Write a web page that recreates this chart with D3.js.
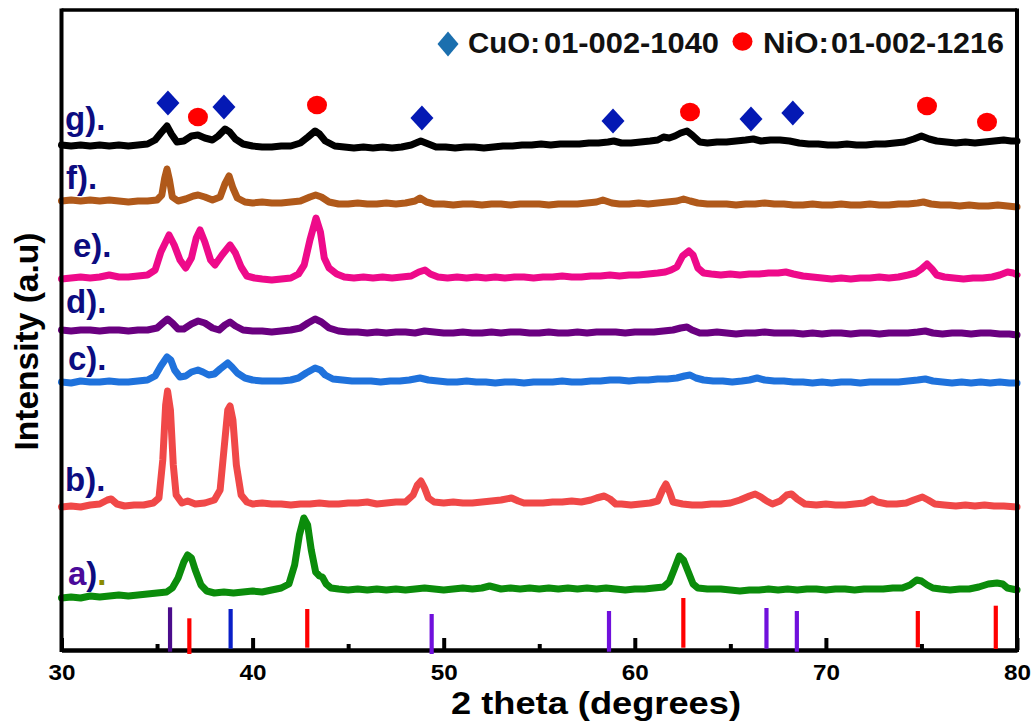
<!DOCTYPE html>
<html><head><meta charset="utf-8">
<script src="https://cdn.jsdelivr.net/npm/d3@7"></script>
<style>body{margin:0;background:#fff}svg{display:block}</style>
</head><body>
<svg id="chart" width="1032" height="721"></svg>
<script>
// ---------- DATA ----------
const sampleLabels = ["a).", "b).", "c).", "d).", "e).", "f).", "g)."];

const seriesA = [[30,52],[30.5,53],[31,52],[31.5,54],[32,53],[32.5,54],[33,55],[33.5,54],[34,55],[34.5,56],[35,57],[35.5,58],[35.8,62],[36.1,72],[36.4,88],[36.6,95],[36.8,92],[37.0,80],[37.3,65],[37.6,59],[38,57],[38.5,58],[39,57],[39.5,58],[40,59],[40.5,58],[41,60],[41.5,62],[41.9,66],[42.2,85],[42.45,115],[42.68,132],[42.88,125],[43.07,100],[43.3,78],[43.5,74],[43.65,73],[43.85,66],[44.1,62],[44.5,61],[45,60],[45.5,61],[46,60],[46.5,61],[47,60],[47.5,61],[48,60],[48.5,61],[49,62],[49.5,61],[50,60],[50.5,61],[51,62],[51.5,61],[52,62],[52.4,64],[52.6,63],[53,61],[53.5,62],[54,61],[54.5,62],[55,61],[55.5,62],[56,61],[56.5,62],[57,61],[57.5,62],[58,61],[58.5,62],[59,61],[59.5,60],[60,61],[60.5,61],[61,62],[61.5,63],[61.8,68],[62.05,80],[62.33,94],[62.55,90],[62.8,78],[63.05,66],[63.3,62],[63.8,61],[64.5,61],[65,60],[65.5,59],[66,60],[66.5,60],[67,61],[67.5,60],[68,61],[68.5,60],[69,61],[69.5,61],[70,60],[70.5,61],[71,61],[71.5,60],[72,61],[72.5,61],[73,61],[73.5,62],[74,62],[74.4,65],[74.75,70],[75.0,69],[75.3,65],[75.6,62],[76,61],[76.5,60],[77,61],[77.5,61],[78,63],[78.5,66],[78.95,67],[79.25,66],[79.5,62],[80,60]];

const seriesB = [[30,143],[30.5,144],[31,143],[31.5,145],[32,146],[32.4,150],[32.6,151],[32.9,146],[33.3,144],[33.8,145],[34.3,145],[34.8,147],[35.1,152],[35.3,190],[35.45,245],[35.55,259],[35.7,240],[35.85,185],[36.0,155],[36.3,147],[36.6,149],[37,146],[37.5,147],[38,150],[38.3,160],[38.5,200],[38.7,240],[38.82,244],[38.97,230],[39.15,185],[39.4,155],[39.7,148],[40,146],[40.5,147],[41,146],[41.5,146],[42,145],[42.5,146],[43,146],[43.5,147],[44,146],[44.5,146],[45,147],[45.5,147],[46,148],[46.5,146],[47,147],[47.5,148],[48,148],[48.4,155],[48.62,165],[48.81,169],[49.0,162],[49.2,152],[49.5,148],[50,147],[50.5,148],[51,147],[51.5,147],[52,148],[52.5,149],[53,150],[53.55,152],[53.9,149],[54.2,147],[54.7,147],[55.2,147],[55.7,148],[56.2,148],[56.7,149],[57.2,148],[57.7,150],[58.0,152],[58.4,154],[58.7,151],[59.0,146],[59.3,146],[59.8,145],[60.3,146],[60.8,147],[61.2,149],[61.45,160],[61.63,166],[61.82,158],[62.0,148],[62.5,146],[63,145],[63.5,145],[64,146],[64.5,146],[65,147],[65.5,150],[66.0,154],[66.3,156],[66.6,153],[66.9,149],[67.2,146],[67.6,149],[67.95,155],[68.2,156],[68.5,151],[68.9,146],[69.5,145],[70,146],[70.5,145],[71,145],[71.5,146],[72,147],[72.43,151],[72.7,148],[73.2,146],[73.7,146],[74.2,147],[74.6,150],[75.05,153],[75.35,150],[75.7,146],[76.2,145],[76.8,144],[77.3,145],[77.8,144],[78.3,145],[78.8,144],[79.3,144],[80,143]];

const seriesC = [[30,268],[30.5,267],[31,269],[31.5,268],[32,268],[32.5,269],[33,268],[33.5,268],[34,269],[34.5,270],[34.9,274],[35.2,284],[35.52,293],[35.72,290],[35.92,280],[36.2,273],[36.5,274],[36.8,278],[37.14,280],[37.4,278],[37.7,275],[38.0,276],[38.3,281],[38.7,287],[38.92,283],[39.2,277],[39.6,272],[40,270],[40.5,269],[41,269],[41.5,269],[42,270],[42.4,272],[42.8,277],[43.27,282],[43.55,280],[43.8,275],[44.2,271],[44.7,270],[45.2,269],[45.7,269],[46.2,269],[46.7,268],[47.2,269],[47.7,269],[48.2,270],[48.76,272],[49.2,270],[49.7,269],[50.2,268],[50.7,268],[51.2,269],[51.7,268],[52.2,268],[52.7,267],[53.2,268],[53.7,268],[54.2,267],[54.7,268],[55.2,268],[55.7,268],[56.2,269],[56.7,268],[57.2,268],[57.7,269],[58.2,269],[58.7,270],[59.2,270],[59.7,269],[60.2,270],[60.7,270],[61.2,271],[61.7,271],[62.2,272],[62.6,274],[62.89,275],[63.2,272],[63.6,270],[64.1,269],[64.6,269],[65.1,268],[65.6,269],[66.0,270],[66.4,272],[66.8,270],[67.3,269],[67.8,269],[68.3,268],[68.8,268],[69.3,267],[69.8,268],[70.3,267],[70.8,268],[71.3,268],[71.8,267],[72.3,268],[72.8,268],[73.3,268],[73.8,268],[74.3,269],[74.8,270],[75.2,271],[75.6,269],[76.1,268],[76.6,267],[77.1,268],[77.6,267],[78.1,268],[78.6,267],[79.1,268],[79.6,267],[80,267]];

const seriesD = [[30,320],[30.5,319],[31,320],[31.5,320],[32,319],[32.5,320],[33,320],[33.5,319],[34,320],[34.5,320],[35,322],[35.3,327],[35.55,331],[35.8,327],[36.1,321],[36.4,321],[36.8,326],[37.15,329],[37.5,327],[37.9,322],[38.25,320],[38.55,325],[38.82,328],[39.1,324],[39.5,320],[40,319],[40.5,319],[41,318],[41.5,319],[42,320],[42.5,322],[42.9,327],[43.27,331],[43.6,328],[44.0,322],[44.5,319],[45,318],[45.5,318],[46,317],[46.5,318],[47,317],[47.5,318],[48,318],[48.5,317],[49,319],[49.5,318],[50,317],[50.5,317],[51,318],[51.5,317],[52,317],[52.5,318],[53,317],[53.5,318],[54,318],[54.5,317],[55,317],[55.5,318],[56,317],[56.5,317],[57,318],[57.5,317],[58,318],[58.5,318],[59,318],[59.5,317],[60,318],[60.5,318],[61,318],[61.5,319],[62,320],[62.4,322],[62.73,323],[63.0,320],[63.4,317],[63.8,317],[64.3,318],[64.8,317],[65.3,316],[65.8,317],[66.3,317],[66.8,318],[67.3,317],[67.8,317],[68.3,317],[68.8,316],[69.3,317],[69.8,316],[70.3,317],[70.8,317],[71.3,316],[71.8,317],[72.3,317],[72.8,316],[73.3,317],[73.8,317],[74.3,317],[74.8,318],[75.2,319],[75.6,317],[76.1,316],[76.6,317],[77.1,317],[77.6,316],[78.1,317],[78.6,317],[79.1,316],[79.6,316],[80,315]];

const seriesE = [[30,371],[30.5,372],[31,373],[31.5,372],[32,373],[32.5,375],[33,373],[33.5,373],[34,374],[34.5,375],[34.9,380],[35.2,398],[35.63,415],[35.9,405],[36.2,390],[36.5,382],[36.8,392],[37.05,412],[37.25,420],[37.5,408],[37.8,390],[38.03,385],[38.4,395],[38.82,405],[39.1,397],[39.4,383],[39.7,374],[40.1,372],[40.5,371],[41,370],[41.5,371],[42,372],[42.4,376],[42.7,385],[43.0,410],[43.32,432],[43.55,418],[43.75,392],[44.0,382],[44.4,376],[44.8,373],[45.3,372],[45.8,373],[46.3,372],[46.8,373],[47.3,372],[47.8,373],[48.3,374],[48.7,378],[49.02,380],[49.3,376],[49.7,373],[50.2,372],[50.7,373],[51.2,372],[51.7,373],[52.2,372],[52.7,373],[53.2,372],[53.7,373],[54.2,373],[54.7,372],[55.2,373],[55.7,373],[56.2,374],[56.7,373],[57.2,373],[57.7,374],[58.2,374],[58.7,375],[59.2,374],[59.7,375],[60.2,375],[60.7,376],[61.2,377],[61.6,378],[61.9,380],[62.2,383],[62.5,394],[62.83,399],[63.05,395],[63.3,382],[63.6,377],[64.0,376],[64.5,375],[65.0,376],[65.5,375],[66.0,376],[66.5,376],[67.0,377],[67.5,377],[67.9,378],[68.3,376],[68.8,374],[69.3,373],[69.8,372],[70.3,371],[70.8,372],[71.3,371],[71.8,372],[72.3,372],[72.8,373],[73.3,372],[73.8,373],[74.3,375],[74.7,377],[75.0,381],[75.29,386],[75.55,381],[75.8,375],[76.2,373],[76.7,372],[77.2,371],[77.7,372],[78.2,372],[78.7,373],[79.1,375],[79.5,378],[79.8,377],[80,375]];

const seriesF = [[30,449],[30.5,450],[31,449],[31.5,450],[32,449],[32.5,450],[33,449],[33.5,448],[34,449],[34.5,449],[35.0,450],[35.25,455],[35.4,472],[35.52,481],[35.65,470],[35.8,453],[36.1,449],[36.5,451],[36.9,454],[37.15,455],[37.5,453],[37.9,450],[38.3,453],[38.55,466],[38.77,474],[38.97,462],[39.2,452],[39.6,448],[40,447],[40.5,448],[41,447],[41.5,447],[42,448],[42.5,449],[43.0,453],[43.3,455],[43.6,453],[44.0,448],[44.5,446],[45,446],[45.5,447],[46,446],[46.5,446],[47,447],[47.5,446],[48,447],[48.5,449],[48.76,452],[49.1,448],[49.5,446],[50,446],[50.5,445],[51,446],[51.5,446],[52,445],[52.5,446],[53,446],[53.5,445],[54,446],[54.5,446],[55,446],[55.5,445],[56,446],[56.5,446],[57,446],[57.5,447],[58,448],[58.33,450],[58.8,447],[59.2,446],[59.7,446],[60.2,447],[60.7,446],[61.2,447],[61.7,448],[62.2,449],[62.55,451],[62.9,449],[63.3,447],[63.8,446],[64.3,446],[64.8,446],[65.3,445],[65.8,446],[66.3,446],[66.8,447],[67.3,446],[67.8,446],[68.3,445],[68.8,445],[69.3,446],[69.8,445],[70.3,445],[70.8,446],[71.3,445],[71.8,445],[72.3,446],[72.8,445],[73.3,445],[73.8,446],[74.3,446],[74.8,447],[75.1,448],[75.5,446],[76,445],[76.5,445],[77,444],[77.5,445],[78,444],[78.5,444],[79,445],[79.5,444],[80,443]];

const seriesG = [[30,505],[30.5,504],[31,505],[31.5,504],[32,505],[32.5,504],[33,505],[33.5,504],[34,505],[34.5,506],[34.9,510],[35.2,517],[35.52,524],[35.75,516],[36.04,508],[36.4,509],[36.8,514],[37.14,515],[37.5,512],[37.9,510],[38.2,514],[38.56,521],[38.8,518],[39.1,511],[39.5,506],[40,504],[40.5,503],[41,503],[41.5,504],[42,504],[42.5,507],[42.9,513],[43.27,519],[43.5,516],[43.8,509],[44.3,504],[44.8,503],[45.3,502],[45.8,503],[46.3,502],[46.8,503],[47.3,502],[47.8,503],[48.3,505],[48.8,509],[49.2,506],[49.6,503],[50.1,503],[50.6,502],[51.1,503],[51.6,503],[52.1,502],[52.6,503],[53.1,504],[53.6,504],[54.1,505],[54.6,505],[55.1,506],[55.6,505],[56.1,506],[56.6,506],[57.1,506],[57.6,507],[58.1,507],[58.6,508],[58.9,509],[59.3,507],[59.8,507],[60.3,508],[60.8,509],[61.2,510],[61.5,513],[61.8,512],[62.1,514],[62.4,517],[62.73,519],[63.0,515],[63.4,508],[63.8,507],[64.3,508],[64.8,508],[65.3,509],[65.8,510],[66.2,511],[66.6,509],[67.1,510],[67.6,510],[68.1,509],[68.6,507],[69.1,506],[69.6,506],[70.1,505],[70.6,505],[71.1,506],[71.6,505],[72.1,505],[72.6,506],[73.1,506],[73.6,507],[74.1,508],[74.6,511],[75.0,514],[75.4,511],[75.8,509],[76.3,508],[76.8,507],[77.3,508],[77.8,507],[78.3,508],[78.8,509],[79.3,510],[79.7,509],[80,509]];

const allSeries = [seriesA, seriesB, seriesC, seriesD, seriesE, seriesF, seriesG];

// phase marker annotations [2theta, intensity]
const cuoMarkers = [[35.57,547],[38.5,543],[48.86,532],[58.86,529],[66.08,531],[68.27,537]];
const nioMarkers = [[37.14,533],[43.37,545],[62.89,538],[75.29,544],[78.43,528]];

// reference pattern sticks: 2theta, top, bottom (intensity units), phase key
const refTheta  = [35.68, 36.69, 38.85, 42.86, 49.37, 58.65, 62.54, 66.89, 68.48, 74.81, 78.89];
const refTop    = [42.7, 31.7, 41, 41, 36, 39, 52, 42, 39, 39, 44.3];
const refBottom = [-1.7, -4, 1.3, 2.3, -4, -1.7, 2.3, 1.3, -1.7, 2.7, 1];
const refKey    = [0, 1, 2, 1, 3, 3, 1, 3, 3, 1, 1];

const xMajorTicks = [30, 40, 50, 60, 70, 80];
const xMinorTicks = [35, 45, 55, 65, 75];
const legendItems = [["CuO:", "01-002-1040"], ["NiO:", "01-002-1216"]];

// ---------- STYLE ----------
const seriesColors = ["#0b8c0b", "#f04848", "#1f72dc", "#6a0080", "#ee0a8a", "#b0591a", "#000000"];
const refColors = ["#4b0c8c", "#ff0000", "#0a1fc8", "#7010dc"];
const navy = "#0c0c80";
const FONT = "Arial, 'Liberation Sans', sans-serif";

const svg = d3.select("#chart");
const x = d3.scaleLinear().domain([30, 80]).range([61.5, 1017]);
const y = d3.scaleLinear().domain([0, 641]).range([650, 9]);

// Series lines
const line = d3.line().x(d => x(d[0])).y(d => y(d[1])).curve(d3.curveLinear);
svg.append("g").selectAll("path").data(allSeries).join("path")
  .attr("d", line)
  .attr("fill", "none")
  .attr("stroke", (d, i) => seriesColors[i])
  .attr("stroke-width", 7)
  .attr("stroke-linejoin", "round")
  .attr("stroke-linecap", "round");

// Frame
svg.append("line").attr("x1", x(30)).attr("x2", x(80)).attr("y1", 10).attr("y2", 10).attr("stroke", "#000").attr("stroke-width", 3.4);
svg.append("line").attr("x1", x(30)).attr("x2", x(30)).attr("y1", 8.5).attr("y2", 652).attr("stroke", "#000").attr("stroke-width", 4);
svg.append("line").attr("x1", x(80)).attr("x2", x(80)).attr("y1", 8.5).attr("y2", 652).attr("stroke", "#000").attr("stroke-width", 4);

// X axis
const ax = d3.axisBottom(x).tickValues(xMajorTicks).tickSizeInner(-12).tickSizeOuter(0).tickPadding(14).tickFormat(d3.format("d"));
const gx = svg.append("g").attr("transform", "translate(0,650)").call(ax);
gx.select(".domain").attr("stroke", "#000").attr("stroke-width", 4.5);
gx.selectAll(".tick line").attr("stroke", "#000").attr("stroke-width", 4);
gx.selectAll(".tick text").attr("fill", "#000").style("font-family", FONT).style("font-weight", "bold").style("font-size", "22px")
  .attr("textLength", 27).attr("lengthAdjust", "spacingAndGlyphs");
const axm = d3.axisBottom(x).tickValues(xMinorTicks).tickSizeInner(-6).tickSizeOuter(0).tickFormat("");
const gxm = svg.append("g").attr("transform", "translate(0,650)").call(axm);
gxm.select(".domain").remove();
gxm.selectAll(".tick line").attr("stroke", "#000").attr("stroke-width", 4);

// Reference sticks
svg.append("g").selectAll("line").data(refTheta).join("line")
  .attr("x1", d => x(d)).attr("x2", d => x(d))
  .attr("y1", (d, i) => y(refTop[i])).attr("y2", (d, i) => y(refBottom[i]))
  .attr("stroke", (d, i) => refColors[refKey[i]])
  .attr("stroke-width", 4.2);

// Axis titles
svg.append("text").attr("x", 451).attr("y", 714).text("2 theta (degrees)")
  .style("font-family", FONT).style("font-weight", "bold").style("font-size", "31px")
  .attr("textLength", 290).attr("lengthAdjust", "spacingAndGlyphs");
svg.append("text").attr("transform", "translate(38,341.5) rotate(-90)").attr("text-anchor", "middle")
  .text("Intensity (a.u)")
  .style("font-family", FONT).style("font-weight", "bold").style("font-size", "34px")
  .attr("textLength", 218).attr("lengthAdjust", "spacingAndGlyphs");

// Markers
const diamond = (cx, cy, w, h) => `M${cx},${cy - h / 2}L${cx + w / 2},${cy}L${cx},${cy + h / 2}L${cx - w / 2},${cy}Z`;
svg.append("g").selectAll("path").data(cuoMarkers).join("path")
  .attr("d", d => diamond(x(d[0]), y(d[1]), 23, 25)).attr("fill", "#0419b4");
svg.append("g").selectAll("ellipse").data(nioMarkers).join("ellipse")
  .attr("cx", d => x(d[0])).attr("cy", d => y(d[1])).attr("rx", 10).attr("ry", 9.3).attr("fill", "#ff0000");

// Legend
svg.append("path").attr("d", diamond(448, 44, 21, 25)).attr("fill", "#1b6fae");
svg.append("ellipse").attr("cx", 742.5).attr("cy", 41.5).attr("rx", 10).attr("ry", 9.3).attr("fill", "#ff0000");
const legendPos = [[468, 72, 544, 175], [763, 66, 831, 173]];
legendItems.forEach((it, i) => {
  const p = legendPos[i];
  svg.append("text").attr("x", p[0]).attr("y", 53).text(it[0])
    .style("font-family", FONT).style("font-weight", "bold").style("font-size", "29px").attr("fill", "#111")
    .attr("textLength", p[1]).attr("lengthAdjust", "spacingAndGlyphs");
  svg.append("text").attr("x", p[2]).attr("y", 53).text(it[1])
    .style("font-family", FONT).style("font-weight", "bold").style("font-size", "29px").attr("fill", "#111")
    .attr("textLength", p[3]).attr("lengthAdjust", "spacingAndGlyphs");
});

// Sample labels
const labelPos = [[68, 585], [65, 491], [68, 370], [66, 313], [73, 257], [66, 189], [65, 130]];
sampleLabels.forEach((lab, i) => {
  const t = svg.append("text").attr("x", labelPos[i][0]).attr("y", labelPos[i][1])
    .style("font-family", FONT).style("font-weight", "bold").style("font-size", "33px");
  if (i === 0) {
    t.append("tspan").attr("fill", "#4a0a9a").text(lab[0]);
    t.append("tspan").attr("fill", navy).text(lab[1]);
    t.append("tspan").attr("fill", "#8b8b00").text(lab[2]);
  } else {
    t.attr("fill", navy).text(lab);
  }
});
</script>
</body></html>
